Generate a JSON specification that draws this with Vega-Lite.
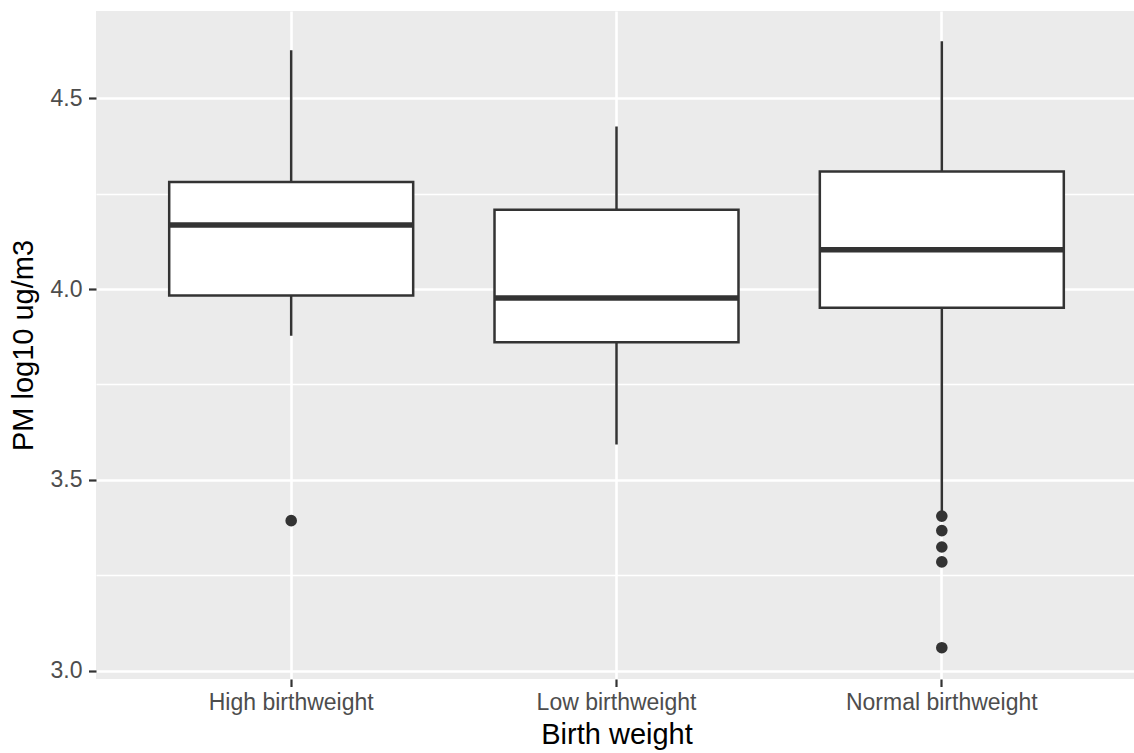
{
  "$schema": "https://vega.github.io/schema/vega-lite/v6.json",
  "width": 1041,
  "height": 668,
  "autosize": {"type": "none"},
  "padding": {"left": 96, "top": 11, "right": 0, "bottom": 74},
  "background": "white",
  "config": {
    "view": {"fill": "#EBEBEB", "stroke": null},
    "font": "Liberation Sans",
    "axis": {
      "domain": false,
      "tickColor": "#333333",
      "tickWidth": 2.2,
      "tickSize": 7.5,
      "labelFont": "Liberation Sans",
      "labelFontSize": 23,
      "labelColor": "#4D4D4D",
      "labelLimit": 0,
      "titleFont": "Liberation Sans",
      "titleFontSize": 29,
      "titleFontWeight": "normal",
      "titleColor": "#000000",
      "gridColor": "#FFFFFF",
      "gridOpacity": 1
    }
  },
  "datasets": {
    "boxes": [
      {"group": "High birthweight", "lower": 3.878, "q1": 3.983, "median": 4.168, "q3": 4.281, "upper": 4.626},
      {"group": "Low birthweight", "lower": 3.593, "q1": 3.861, "median": 3.977, "q3": 4.208, "upper": 4.426},
      {"group": "Normal birthweight", "lower": 3.417, "q1": 3.951, "median": 4.103, "q3": 4.308, "upper": 4.650}
    ],
    "outliers": [
      {"group": "High birthweight", "value": 3.393},
      {"group": "Normal birthweight", "value": 3.405},
      {"group": "Normal birthweight", "value": 3.367},
      {"group": "Normal birthweight", "value": 3.324},
      {"group": "Normal birthweight", "value": 3.285},
      {"group": "Normal birthweight", "value": 3.060}
    ]
  },
  "resolve": {"axis": {"y": "independent", "x": "independent"}},
  "layer": [
    {
      "data": {"name": "boxes"},
      "mark": {"type": "rule", "color": "#333333", "strokeWidth": 2.5},
      "encoding": {
        "x": {
          "field": "group", "type": "nominal",
          "scale": {"type": "band", "paddingInner": 0.25, "paddingOuter": 0.225, "domain": ["High birthweight", "Low birthweight", "Normal birthweight"]},
          "axis": {"title": "Birth weight", "grid": true, "gridWidth": 2.6, "labelAngle": 0, "labelPadding": 5, "labelBaseline": "top", "titleY": 64, "titleBaseline": "alphabetic"}
        },
        "y": {
          "field": "lower", "type": "quantitative",
          "scale": {"domain": [2.978, 4.729], "nice": false, "zero": false},
          "axis": {"title": "PM log10 ug/m3", "values": [3.0, 3.5, 4.0, 4.5], "format": ".1f", "grid": true, "gridWidth": 2.6, "labelPadding": 6.5, "titleX": -73, "titleY": 334, "titleAlign": "center", "titleBaseline": "middle", "titleAngle": -90}
        },
        "y2": {"field": "upper"}
      }
    },
    {
      "data": {"name": "boxes"},
      "mark": {"type": "bar", "fill": "#FFFFFF", "stroke": "#333333", "strokeWidth": 2.5},
      "encoding": {
        "x": {"field": "group", "type": "nominal", "axis": null},
        "y": {"field": "q1", "type": "quantitative", "axis": {"orient": "left", "values": [3.25, 3.75, 4.25], "grid": true, "gridWidth": 1.3, "labels": false, "ticks": false, "domain": false, "title": null}},
        "y2": {"field": "q3"}
      }
    },
    {
      "data": {"name": "boxes"},
      "mark": {"type": "tick", "color": "#333333", "thickness": 5.5, "size": 245, "opacity": 1},
      "encoding": {
        "x": {"field": "group", "type": "nominal", "axis": null},
        "y": {"field": "median", "type": "quantitative", "axis": null}
      }
    },
    {
      "data": {"name": "outliers"},
      "mark": {"type": "circle", "color": "#333333", "size": 135, "opacity": 1},
      "encoding": {
        "x": {"field": "group", "type": "nominal", "axis": null},
        "y": {"field": "value", "type": "quantitative", "axis": null}
      }
    }
  ]
}
